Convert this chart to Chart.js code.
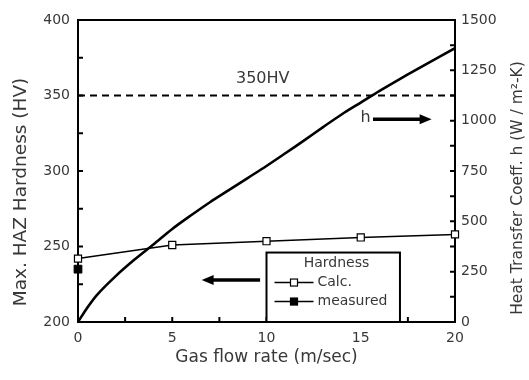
<!DOCTYPE html>
<html lang="en">
<head>
  <meta charset="UTF-8">
  <title>Max. HAZ Hardness vs Gas Flow Rate</title>
  <script src="https://cdn.jsdelivr.net/npm/chart.js"></script>
  <style>
    html, body {
      margin: 0;
      padding: 0;
      background: #fff;
    }
    #wrap {
      width: 529px;
      height: 380px;
    }
  </style>
</head>
<body>
  <div id="wrap"><canvas id="hazChart"></canvas></div>

  <script>
    // hardness, calculated and measured (HV)
    const calcFlow = [0, 5, 10, 15, 20];
    const calcHardness = [242, 251, 253.5, 256, 258];
    const measuredFlow = [0];
    const measuredHardness = [235];

    // heat transfer coefficient h (W / m2-K)
    const hFlow = [0, 0.5, 1, 2, 3, 4, 5, 6, 7, 8, 9, 10, 11, 12, 13, 14, 15, 16, 17, 18, 19, 20];
    const hCoeff = [0, 72, 134, 228, 310, 385, 462, 530, 595, 655, 715, 775, 838, 902, 968, 1032, 1090, 1148, 1203, 1256, 1308, 1360];

    // 350HV limit
    const limitFlow = [0, 20];
    const limitHardness = [350, 350];

    // tick labels
    const flowTicks = [0, 5, 10, 15, 20];
    const hardnessTicks = [200, 250, 300, 350, 400];
    const coeffTicks = [0, 250, 500, 750, 1000, 1250, 1500];

    const FONT = 'DejaVu Sans';
    const INK = '#383838';
    Chart.defaults.font.family = FONT;
    Chart.defaults.color = INK;

    const toPoints = (xs, ys) => xs.map((x, i) => ({ x: x, y: ys[i] }));
    const withMinor = ticks => {
      const out = [];
      ticks.forEach((v, i) => {
        out.push(v);
        if (i < ticks.length - 1) out.push((v + ticks[i + 1]) / 2);
      });
      return out;
    };

    function arrow(ctx, x1, y, x2) {
      const dir = Math.sign(x2 - x1);
      ctx.lineWidth = 3.5;
      ctx.beginPath();
      ctx.moveTo(x1, y);
      ctx.lineTo(x2 - dir * 8, y);
      ctx.stroke();
      ctx.beginPath();
      ctx.moveTo(x2, y);
      ctx.lineTo(x2 - dir * 12, y - 5);
      ctx.lineTo(x2 - dir * 12, y + 5);
      ctx.closePath();
      ctx.fill();
    }

    function square(ctx, cx, cy, filled) {
      ctx.lineWidth = 1.2;
      ctx.fillStyle = filled ? '#000' : '#fff';
      ctx.fillRect(cx - 3.5, cy - 3.5, 7, 7);
      ctx.strokeRect(cx - 3.5, cy - 3.5, 7, 7);
    }

    const decor = {
      id: 'decor',
      beforeDatasetsDraw(chart) {
        const { ctx, chartArea: a, scales: { x, y, y1 } } = chart;
        ctx.save();
        ctx.strokeStyle = '#000';
        ctx.lineWidth = 2;
        ctx.strokeRect(a.left, a.top, a.right - a.left, a.bottom - a.top);

        // inward tick marks
        ctx.beginPath();
        withMinor(hardnessTicks).slice(1, -1).forEach(v => {
          const p = y.getPixelForValue(v);
          ctx.moveTo(a.left, p);
          ctx.lineTo(a.left + 5, p);
        });
        withMinor(coeffTicks).slice(1, -1).forEach(v => {
          const p = y1.getPixelForValue(v);
          ctx.moveTo(a.right, p);
          ctx.lineTo(a.right - 5, p);
        });
        withMinor(flowTicks).slice(1, -1).forEach(v => {
          const p = x.getPixelForValue(v);
          ctx.moveTo(p, a.bottom);
          ctx.lineTo(p, a.bottom - 5);
        });
        ctx.stroke();
        ctx.restore();
      },
      afterDatasetsDraw(chart) {
        const { ctx, chartArea: a, scales: { x, y } } = chart;
        ctx.save();
        ctx.fillStyle = '#000';
        ctx.strokeStyle = '#000';

        // arrows pointing to the axis of each curve
        arrow(ctx, x.getPixelForValue(9.66), y.getPixelForValue(227.8), x.getPixelForValue(6.56));
        arrow(ctx, x.getPixelForValue(15.65), y.getPixelForValue(334.2), x.getPixelForValue(18.76));

        ctx.fillStyle = INK;
        ctx.textAlign = 'center';
        ctx.textBaseline = 'middle';
        ctx.font = '16px ' + FONT;
        ctx.fillText('350HV', x.getPixelForValue(9.8), y.getPixelForValue(361));
        ctx.fillText('h', x.getPixelForValue(15.25), y.getPixelForValue(335));

        // legend box
        const bl = x.getPixelForValue(10);
        const br = x.getPixelForValue(17.08);
        const bt = y.getPixelForValue(246);
        ctx.fillStyle = '#fff';
        ctx.fillRect(bl, bt, br - bl, a.bottom - bt);
        ctx.strokeStyle = '#000';
        ctx.lineWidth = 2;
        ctx.strokeRect(bl, bt, br - bl, a.bottom - bt);

        ctx.fillStyle = INK;
        ctx.font = '14px ' + FONT;
        ctx.fillText('Hardness', bl + 70, bt + 11);
        ctx.textAlign = 'left';
        [['Calc.', false], ['measured', true]].forEach(([label, filled], i) => {
          const ly = bt + 30 + i * 19;
          ctx.strokeStyle = '#000';
          ctx.lineWidth = 1.5;
          ctx.beginPath();
          ctx.moveTo(bl + 8, ly);
          ctx.lineTo(bl + 47, ly);
          ctx.stroke();
          square(ctx, bl + 27.5, ly, filled);
          ctx.fillStyle = INK;
          ctx.fillText(label, bl + 51, ly);
        });

        // axis titles read bottom to top on both sides
        ctx.textAlign = 'center';
        ctx.save();
        ctx.translate(21, 192);
        ctx.rotate(-Math.PI / 2);
        ctx.font = '18.5px ' + FONT;
        ctx.fillText('Max. HAZ Hardness (HV)', 0, 0);
        ctx.restore();

        ctx.save();
        ctx.translate(518, 188);
        ctx.rotate(-Math.PI / 2);
        ctx.font = '15.5px ' + FONT;
        ctx.fillText('Heat Transfer Coeff. h (W / m\u00B2-K)', 0, 0);
        ctx.restore();

        ctx.restore();
      }
    };

    const ctx = document.getElementById('hazChart').getContext('2d');

    new Chart(ctx, {
      type: 'line',
      data: {
        datasets: [
          {
            label: 'h',
            data: toPoints(hFlow, hCoeff),
            yAxisID: 'y1',
            borderColor: '#000',
            borderWidth: 2.6,
            pointRadius: 0,
            tension: 0.3
          },
          {
            label: '350HV',
            data: toPoints(limitFlow, limitHardness),
            yAxisID: 'y',
            borderColor: '#000',
            borderWidth: 2,
            borderDash: [7, 5],
            pointRadius: 0
          },
          {
            label: 'Calc.',
            data: toPoints(calcFlow, calcHardness),
            yAxisID: 'y',
            borderColor: '#000',
            borderWidth: 1.5,
            pointStyle: 'rect',
            pointRadius: 5,
            pointBackgroundColor: '#fff',
            pointBorderColor: '#000',
            pointBorderWidth: 1.2,
            clip: false
          },
          {
            label: 'measured',
            data: toPoints(measuredFlow, measuredHardness),
            yAxisID: 'y',
            showLine: false,
            pointStyle: 'rect',
            pointRadius: 5.5,
            pointBackgroundColor: '#000',
            pointBorderColor: '#000',
            clip: false
          }
        ]
      },
      options: {
        responsive: true,
        maintainAspectRatio: false,
        animation: false,
        layout: { padding: { top: 20, left: 0, right: 0, bottom: 0 } },
        plugins: {
          legend: { display: false },
          tooltip: { enabled: false }
        },
        scales: {
          x: {
            type: 'linear',
            min: flowTicks[0],
            max: flowTicks[flowTicks.length - 1],
            afterBuildTicks: s => { s.ticks = flowTicks.map(v => ({ value: v })); },
            afterFit: s => { s.height = 58; },
            grid: { display: false, drawTicks: false },
            border: { display: false },
            ticks: { padding: 8, font: { size: 14 }, color: INK, callback: v => String(v) },
            title: {
              display: true,
              text: 'Gas flow rate (m/sec)',
              font: { size: 17, lineHeight: 1.2 },
              padding: { top: 0, bottom: 12 }
            }
          },
          y: {
            position: 'left',
            min: hardnessTicks[0],
            max: hardnessTicks[hardnessTicks.length - 1],
            afterBuildTicks: s => { s.ticks = hardnessTicks.map(v => ({ value: v })); },
            afterFit: s => { s.width = 78; },
            grid: { display: false, drawTicks: false },
            border: { display: false },
            ticks: { padding: 8, font: { size: 14 }, color: INK, callback: v => String(v) }
          },
          y1: {
            position: 'right',
            min: coeffTicks[0],
            max: coeffTicks[coeffTicks.length - 1],
            afterBuildTicks: s => { s.ticks = coeffTicks.map(v => ({ value: v })); },
            afterFit: s => { s.width = 74; },
            grid: { display: false, drawTicks: false },
            border: { display: false },
            ticks: { padding: 6, font: { size: 14 }, color: INK, callback: v => String(v) }
          }
        }
      },
      plugins: [decor]
    });
  </script>
</body>
</html>
